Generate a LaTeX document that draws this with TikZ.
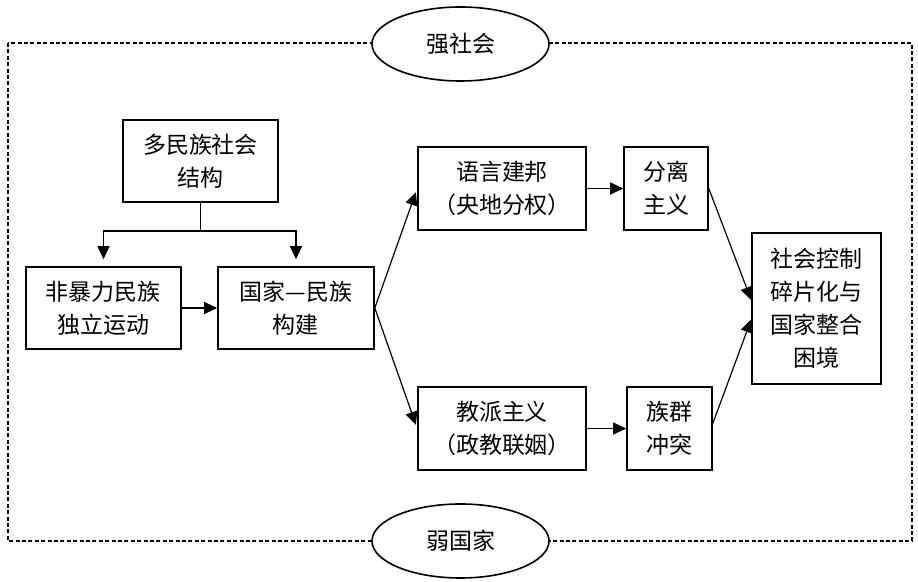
\documentclass[tikz,border=0pt]{standalone}
\usepackage{fontspec}
\setmainfont{Noto Sans CJK SC}
\usetikzlibrary{arrows.meta, shapes.geometric, calc}

\begin{document}
\begin{tikzpicture}[x=0.5pt, y=-0.5pt,
    font=\fontsize{11.5pt}{16.5pt}\selectfont,
    box/.style={draw, line width=0.8pt, align=center, inner sep=0pt},
    oval/.style={draw, ellipse, fill=white, line width=0.8pt, inner sep=0pt,
                 minimum width=88.5pt, minimum height=37pt},
    arr/.style={-{Triangle[length=6.5pt, width=6pt]}, line width=0.6pt}]

    \useasboundingbox (0,0) rectangle (918,582);

    % frame
    \draw[dash pattern=on 2pt off 1.2pt, line width=0.6pt] (8,43) rectangle (912,541);
    \node[oval] (strong) at (460.5,44) {强社会};
    \node[oval] (weak) at (460.5,541) {弱国家};

    % boxes
    \node[box, minimum width=77.5pt, minimum height=41pt] (multi) at (200.5,161) {多民族社会\\结构};
    \node[box, minimum width=77.5pt, minimum height=41pt] (nonviol) at (103.5,308) {非暴力民族\\独立运动};
    \node[box, minimum width=78pt, minimum height=41pt] (nation) at (296,308) {国家—民族\\构建};
    \node[box, minimum width=84pt, minimum height=41.5pt] (lang) at (502,188.5) {语言建邦\\（央地分权）};
    \node[box, minimum width=42pt, minimum height=41.5pt] (sep) at (666,188.5) {分离\\主义};
    \node[box, minimum width=84pt, minimum height=41.5pt] (sect) at (502,428.5) {教派主义\\（政教联姻）};
    \node[box, minimum width=42.5pt, minimum height=41.5pt] (conflict) at (669.5,428.5) {族群\\冲突};
    \node[box, minimum width=64.5pt, minimum height=75.5pt] (dilemma) at (816.5,308.5) {社会控制\\碎片化与\\国家整合\\困境};

    % connectors
    \coordinate (split) at (200.5,231);
    \draw[line width=0.6pt] (multi.south) -- (split);
    \draw[arr, shorten >=3.5pt] (split) -| (nonviol.north);
    \draw[arr, shorten >=3.5pt] (split) -| (nation.north);
    \draw[arr] (nonviol) -- (nation);
    \draw[arr, shorten >=2pt] (nation.east) -- (lang.west);
    \draw[arr, shorten >=2pt] (nation.east) -- (sect.west);
    \draw[arr] (lang) -- (sep);
    \draw[arr] (sect) -- (conflict);
    \draw[arr] (sep.east) -- ([yshift=4.25pt]dilemma.west);
    \draw[arr] ([yshift=2.5pt]conflict.east) -- ([yshift=-5.5pt]dilemma.west);
\end{tikzpicture}
\end{document}
